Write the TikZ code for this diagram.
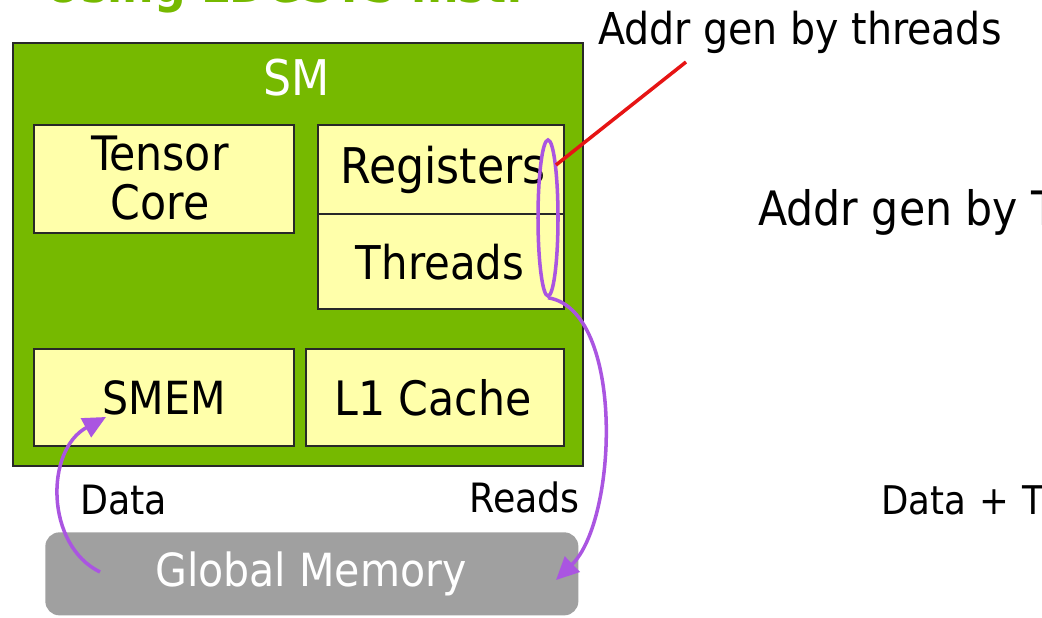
\documentclass[tikz,border=0pt]{standalone}
\usepackage{fontspec}
\setmainfont{DejaVu Sans Condensed}
\usetikzlibrary{arrows.meta,shapes.geometric}
\definecolor{nvgreen}{RGB}{118,185,0}
\definecolor{boxyellow}{RGB}{255,255,170}
\definecolor{gmgray}{RGB}{160,160,160}
\definecolor{arcpurple}{RGB}{170,85,225}
\definecolor{linered}{RGB}{230,20,20}
\definecolor{edgedark}{RGB}{40,40,40}
\tikzset{
  unitbox/.style={draw=edgedark, line width=1.2pt, fill=boxyellow, inner sep=0pt, align=center, font=\fontsize{26}{30}\selectfont},
  plaintext/.style={inner sep=0pt},
  purplearc/.style={draw=arcpurple, line width=2pt, -{Triangle[length=13pt,width=12pt]}},
  annot/.style={anchor=west, inner sep=0pt, font=\fontsize{25}{30}\selectfont},
  smalllabel/.style={inner sep=0pt, font=\fontsize{23}{28}\selectfont}
}
\begin{document}
\begin{tikzpicture}[x=0.02cm,y=-0.02cm]
\useasboundingbox (0,0) rectangle (1042,618);
\begin{scope}
\clip (0,0) rectangle (1042,618);
\node[anchor=base west, inner sep=0pt, text=nvgreen, font=\bfseries\fontsize{28}{32}\selectfont] (title) at (45,3) {Using LDGSTS inst.};
\end{scope}
% SM box
\node[draw=edgedark, line width=1.2pt, fill=nvgreen, minimum width=570*0.02cm, minimum height=423*0.02cm, inner sep=0pt, anchor=north west] (sm) at (12,42) {};
\node[plaintext, text=white, font=\fontsize{28}{32}\selectfont] (smlabel) at (297,78) {SM};
\node[unitbox, minimum width=260*0.02cm, minimum height=108*0.02cm, anchor=north west] (tc) at (33,124) {};
\node[plaintext, align=center, font=\fontsize{27}{28.4}\selectfont] (tctext) at (160,178) {Tensor\\Core};
\node[unitbox, minimum width=246*0.02cm, minimum height=89*0.02cm, anchor=north west] (reg) at (317,124) {};
\node[plaintext, font=\fontsize{28}{32}\selectfont] (regtext) at (443,170) {Registers};
\node[unitbox, minimum width=246*0.02cm, minimum height=95*0.02cm, anchor=north west] (thr) at (317,213) {};
\node[plaintext, font=\fontsize{26.5}{30}\selectfont] (thrtext) at (440,262) {Threads};
\node[unitbox, minimum width=260*0.02cm, minimum height=97*0.02cm, anchor=north west] (smem) at (33,348) {SMEM};
\node[unitbox, minimum width=258*0.02cm, minimum height=97*0.02cm, anchor=north west] (l1) at (305,348) {};
\node[plaintext, font=\fontsize{27}{30}\selectfont] (l1text) at (433,398) {L1 Cache};
% Global memory
\node[fill=gmgray, rounded corners=8pt, minimum width=533*0.02cm, minimum height=83*0.02cm, anchor=north west, inner sep=0pt] (gm) at (45,532) {};
\node[plaintext, text=white, font=\fontsize{26}{30}\selectfont] (gmtext) at (311,574) {Global Memory};
% labels
\node[smalllabel, anchor=west] (data) at (80,500) {Data};
\node[smalllabel, anchor=east] (reads) at (580,497) {Reads};
\node[annot] (a1) at (598,32) {Addr gen by threads};
\node[annot, font=\fontsize{27}{30}\selectfont] (a2) at (758,212) {Addr gen by T};
\node[annot, font=\fontsize{22.5}{26}\selectfont] (a3) at (881,500) {Data\,\,+\,\,T};
% ellipse
\node[draw=arcpurple, line width=2pt, ellipse, minimum width=20*0.02cm, minimum height=156*0.02cm, inner sep=0pt] (sel) at (548,218) {};
% red line
\coordinate (redstart) at (556,165);
\coordinate (redend) at (686,62);
\draw[linered, line width=2pt] (redstart) -- (redend);
% reads arc
\coordinate (readtip) at (556,580);
\draw[purplearc] (sel.south) .. controls (625,310) and (618,520) .. (readtip);
% data arc
\coordinate (datastart) at (100,572);
\coordinate (datatip) at (106,417);
\draw[purplearc] (datastart) .. controls (45,545) and (45,450) .. (datatip);
\end{tikzpicture}
\end{document}
